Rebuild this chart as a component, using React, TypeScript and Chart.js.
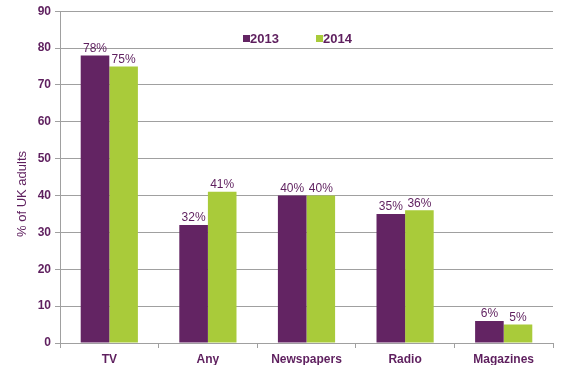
import React, { useEffect, useRef } from "react";
import { Chart, registerables } from "chart.js";

Chart.register(...registerables);

const categories = ["TV", "Any", "Newspapers", "Radio", "Magazines"];
const series2013 = [78, 32, 40, 35, 6];
const series2014 = [75, 41, 40, 36, 5];
const seriesNames = ["2013", "2014"];
const yTicks = [0, 10, 20, 30, 40, 50, 60, 70, 80, 90];
const yTitle = "% of UK adults";

const PURPLE = "#632463";
const GREEN = "#A9CB3A";
const TEXT = "#5E1F5E";
const GRID = "#a0a0a0";
const FAMILY = "Arial, 'Liberation Sans', sans-serif";

const labelsPlugin = {
  id: "customLabels",
  afterDatasetsDraw(chart: any) {
    const ctx = chart.ctx;
    ctx.save();
    ctx.fillStyle = TEXT;
    ctx.font = "12px " + FAMILY;
    ctx.textAlign = "center";
    ctx.textBaseline = "bottom";
    chart.data.datasets.forEach((ds: any, i: number) => {
      const meta = chart.getDatasetMeta(i);
      meta.data.forEach((bar: any, j: number) => {
        ctx.fillText(ds.data[j] + "%", bar.x, bar.y - 1);
      });
    });
    // legend
    const colors = [PURPLE, GREEN];
    const xs = [243, 316];
    const cy = 38;
    ctx.font = "bold 13px " + FAMILY;
    ctx.textAlign = "left";
    ctx.textBaseline = "middle";
    seriesNames.forEach((n, i) => {
      ctx.fillStyle = colors[i];
      ctx.fillRect(xs[i], cy - 3, 7, 7);
      ctx.fillStyle = TEXT;
      ctx.fillText(n, xs[i] + 7, cy + 1);
    });
    // y-axis title
    ctx.save();
    ctx.translate(22, 194);
    ctx.rotate(-Math.PI / 2);
    ctx.textAlign = "center";
    ctx.textBaseline = "middle";
    ctx.font = "13px " + FAMILY;
    ctx.fillStyle = TEXT;
    ctx.fillText(yTitle, 0, 0);
    ctx.restore();
    ctx.restore();
  },
};

export default function App() {
  const ref = useRef<HTMLCanvasElement>(null);
  useEffect(() => {
    document.body.style.margin = "0";
    const chart = new Chart(ref.current!, {
      type: "bar",
      data: {
        labels: categories,
        datasets: [
          { label: seriesNames[0], data: series2013, backgroundColor: PURPLE, categoryPercentage: 0.58, barPercentage: 1 },
          { label: seriesNames[1], data: series2014, backgroundColor: GREEN, categoryPercentage: 0.58, barPercentage: 1 },
        ],
      },
      plugins: [labelsPlugin],
      options: {
        responsive: false,
        animation: false,
        layout: { padding: { top: 11, right: 25, left: 0, bottom: 0 } },
        plugins: { legend: { display: false }, tooltip: { enabled: false } },
        scales: {
          x: {
            offset: true,
            grid: { offset: true, drawOnChartArea: false, drawTicks: true, tickLength: 5, color: GRID },
            border: { color: GRID },
            ticks: {
              color: TEXT,
              font: { family: FAMILY, size: 12, weight: "bold" },
              padding: 4,
            },
            afterFit: (s: any) => { s.height = 22; },
          },
          y: {
            min: 0,
            max: 90,
            afterBuildTicks: (s: any) => { s.ticks = yTicks.map((v) => ({ value: v })); },
            grid: { color: GRID, drawTicks: true, tickLength: 5 },
            border: { color: GRID },
            ticks: {
              color: TEXT,
              font: { family: FAMILY, size: 12, weight: "bold" },
              padding: 4,
            },
            afterFit: (s: any) => { s.width = 60; },
          },
        },
      },
    });
    return () => chart.destroy();
  }, []);
  return (
    <div style={{ position: "absolute", left: 0, top: 0, width: 578, height: 365, background: "#fff" }}>
      <canvas ref={ref} width={578} height={365} />
    </div>
  );
}
